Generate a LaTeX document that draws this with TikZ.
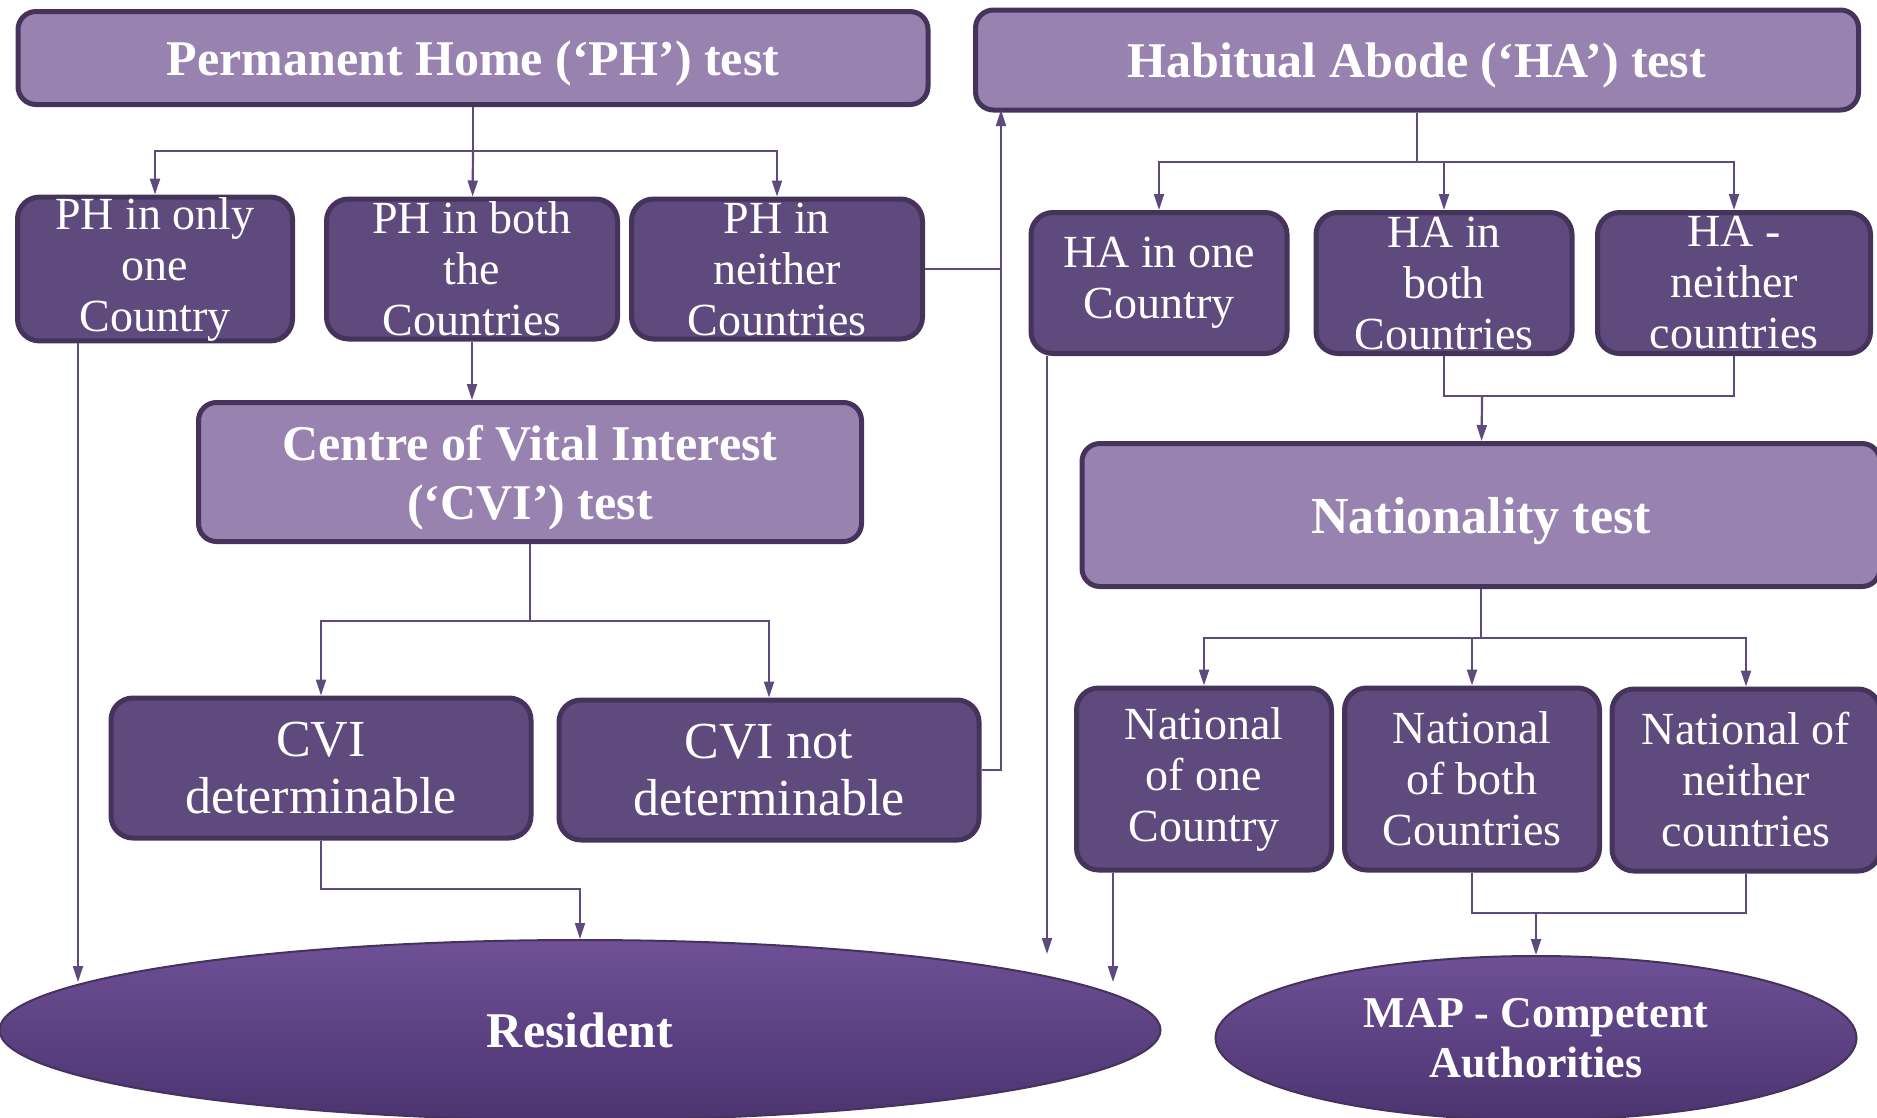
\documentclass[tikz,border=0pt]{standalone}
\usepackage{fontspec}
\setmainfont{Liberation Serif}
\usepackage{tikz}
\usetikzlibrary{shapes.geometric,arrows.meta}

\definecolor{testfill}{HTML}{9782B0}
\definecolor{outfill}{HTML}{5E4A7C}
\definecolor{boxline}{HTML}{45335C}
\definecolor{linkcol}{HTML}{5E4A7C}
\definecolor{resTop}{HTML}{6E5096}
\definecolor{resBot}{HTML}{4B3470}

\tikzset{
  test/.style={rectangle, rounded corners=18pt, draw=boxline, line width=5pt,
    fill=testfill, text=white, align=center, inner sep=0pt, text depth=0pt,
    font=\bfseries\fontsize{50}{59}\selectfont},
  outcome/.style={rectangle, rounded corners=22pt, draw=boxline, line width=5pt,
    fill=outfill, text=white, align=center, inner sep=0pt,
    font=\fontsize{46}{51}\selectfont},
  result/.style={ellipse, draw=boxline, line width=2pt, top color=resTop,
    bottom color=resBot, text=white, align=center, inner sep=0pt,
    font=\bfseries\fontsize{50}{50}\selectfont},
  link/.style={draw=linkcol, line width=2.2pt},
  arr/.style={link, -{Triangle[length=16pt,width=10pt]}},
}

\begin{document}
\begin{tikzpicture}[x=1pt,y=-1pt]
    \useasboundingbox (0,0) rectangle (1877,1117);

    \node[test, minimum width=910pt, minimum height=93pt] (PH) at (473,58) {Permanent Home (‘PH’) test};
    \node[test, minimum width=883pt, minimum height=100pt] (HA) at (1417,60) {Habitual Abode (‘HA’) test};

    \node[outcome, minimum width=275pt, minimum height=140pt] (PH1) at (155,269) {PH in only\\one\\Country};
    \node[outcome, minimum width=291pt, minimum height=140pt] (PH2) at (472,269) {PH in both\\the\\Countries};
    \node[outcome, minimum width=291pt, minimum height=140pt] (PH3) at (777,269) {PH in\\neither\\Countries};

    \node[test, minimum width=663pt, minimum height=139pt] (CVI) at (530,472) {Centre of Vital Interest\\(‘CVI’) test};
    \node[outcome, minimum width=420pt, minimum height=140pt, font=\fontsize{52}{57}\selectfont] (CVI1) at (321,768) {CVI\\determinable};
    \node[outcome, minimum width=420pt, minimum height=140pt, font=\fontsize{52}{57}\selectfont] (CVI2) at (769,770) {CVI not\\determinable};

    \node[outcome, minimum width=256pt, minimum height=141pt] (HA1) at (1159,283) {HA in one\\Country};
    \node[outcome, minimum width=256pt, minimum height=141pt] (HA2) at (1444,283) {HA in\\both\\Countries};
    \node[outcome, minimum width=273pt, minimum height=141pt] (HA3) at (1734,283) {HA -\\neither\\countries};

    \node[test, minimum width=798pt, minimum height=143pt, font=\bfseries\fontsize{52}{59}\selectfont] (N) at (1481,515) {Nationality test};
    \node[outcome, minimum width=255pt, minimum height=182pt] (N1) at (1204,779) {National\\of one\\Country};
    \node[outcome, minimum width=255pt, minimum height=182pt] (N2) at (1472,779) {National\\of both\\Countries};
    \node[outcome, minimum width=268pt, minimum height=182pt] (N3) at (1746,780) {National of\\neither\\countries};

    \node[result, minimum width=1161pt, minimum height=180pt] (R) at (580,1030) {Resident};
    \node[result, minimum width=641pt, minimum height=164pt, font=\bfseries\fontsize{44}{50}\selectfont] (MAP) at (1536,1038) {MAP - Competent\\Authorities};

    \coordinate (PHb) at (473,151);
    \coordinate (CVIb) at (530,621);
    \coordinate (HAb) at (1417,162);
    \coordinate (HAj) at (1482,396);
    \coordinate (Nb) at (1481,638);
    \coordinate (Nj) at (1536,913);
    \coordinate (Up) at (1001,110);
    \coordinate (Rj) at (580,889);
    \coordinate (R1) at (78,982);
    \coordinate (R2) at (1047,954);
    \coordinate (R3) at (1113,982);

    \draw[link] (PH)--(PHb);
    \draw[arr] (PHb)-|(PH1);
    \draw[arr] (PHb)--(PH2);
    \draw[arr] (PHb)-|(PH3);

    \draw[arr] (PH2.south)--(PH2.south |- CVI.north);
    \draw[link] (CVI)--(CVIb);
    \draw[arr] (CVIb)-|(CVI1);
    \draw[arr] (CVIb)-|(CVI2);

    \draw[arr] (PH1.south -| R1)--(R1);
    \draw[arr] (CVI1.south)|-(Rj)--(R.north);

    \draw[link] (PH3.east)--(PH3.east -| Up);
    \draw[arr] (CVI2.east)-|(Up);

    \draw[link] (HA)--(HAb);
    \draw[arr] (HAb)-|(HA1);
    \draw[arr] (HAb)-|(HA2);
    \draw[arr] (HAb)-|(HA3);

    \draw[arr] (HA1.south -| R2)--(R2);
    \draw[link] (HA2.south)|-(HAj);
    \draw[link] (HA3.south)|-(HAj);
    \draw[arr] (HAj)--(N);

    \draw[link] (N)--(Nb);
    \draw[arr] (Nb)-|(N1);
    \draw[arr] (Nb)-|(N2);
    \draw[arr] (Nb)-|(N3);

    \draw[arr] (N1.south -| R3)--(R3);
    \draw[link] (N2.south)|-(Nj);
    \draw[link] (N3.south)|-(Nj);
    \draw[arr] (Nj)--(MAP);

\end{tikzpicture}
\end{document}
